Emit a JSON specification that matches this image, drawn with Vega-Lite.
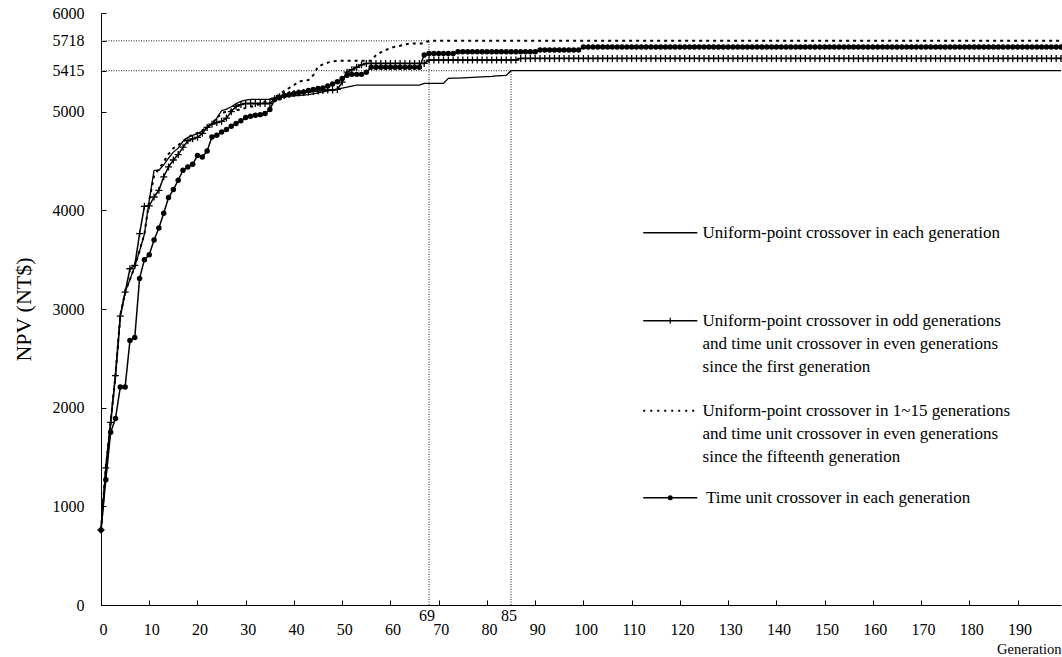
{
"$schema": "https://vega.github.io/schema/vega-lite/v6.json",
"width": 960, "height": 592,
"autosize": {"type": "none"},
"padding": {"left": 101, "top": 13, "right": 1, "bottom": 52},
"background": "white",
"config": {"view": {"stroke": null}, "font": "Liberation Serif",
 "axis": {"domainColor": "black", "tickColor": "black", "labelColor": "black", "titleColor": "black", "grid": false, "labelFont": "Liberation Serif", "titleFont": "Liberation Serif", "labelFontSize": 16, "titleFontWeight": "normal", "tickSize": -5, "domainWidth": 1, "tickWidth": 1, "format": "d"}},
"datasets": {
"series": [
{"g":0,"u":760,"p":760,"d":760,"t":760},
{"g":1,"u":1390,"p":1390,"d":1390,"t":1270},
{"g":2,"u":1851,"p":1851,"d":1851,"t":1750},
{"g":3,"u":2330,"p":2325,"d":2330,"t":1890},
{"g":4,"u":2930,"p":2927,"d":2930,"t":2210},
{"g":5,"u":3171,"p":3171,"d":3171,"t":2210},
{"g":6,"u":3300,"p":3408,"d":3300,"t":2680},
{"g":7,"u":3430,"p":3442,"d":3430,"t":2710},
{"g":8,"u":3590,"p":3763,"d":3590,"t":3310},
{"g":9,"u":3760,"p":4041,"d":3760,"t":3500},
{"g":10,"u":4100,"p":4045,"d":4100,"t":3550},
{"g":11,"u":4406,"p":4135,"d":4350,"t":3700},
{"g":12,"u":4406,"p":4203,"d":4420,"t":3820},
{"g":13,"u":4460,"p":4340,"d":4490,"t":3970},
{"g":14,"u":4530,"p":4440,"d":4570,"t":4130},
{"g":15,"u":4590,"p":4510,"d":4630,"t":4210},
{"g":16,"u":4630,"p":4565,"d":4660,"t":4305},
{"g":17,"u":4700,"p":4640,"d":4700,"t":4406},
{"g":18,"u":4740,"p":4705,"d":4740,"t":4440},
{"g":19,"u":4760,"p":4725,"d":4765,"t":4467},
{"g":20,"u":4778,"p":4740,"d":4785,"t":4555},
{"g":21,"u":4805,"p":4780,"d":4810,"t":4541},
{"g":22,"u":4840,"p":4840,"d":4845,"t":4602},
{"g":23,"u":4875,"p":4873,"d":4880,"t":4744},
{"g":24,"u":4935,"p":4890,"d":4935,"t":4761},
{"g":25,"u":5010,"p":4902,"d":4985,"t":4795},
{"g":26,"u":5025,"p":4935,"d":5000,"t":4819},
{"g":27,"u":5050,"p":5000,"d":5010,"t":4853},
{"g":28,"u":5080,"p":5055,"d":5015,"t":4880},
{"g":29,"u":5105,"p":5072,"d":5020,"t":4907},
{"g":30,"u":5117,"p":5083,"d":5040,"t":4941},
{"g":31,"u":5124,"p":5083,"d":5049,"t":4954},
{"g":32,"u":5124,"p":5083,"d":5060,"t":4964},
{"g":33,"u":5124,"p":5083,"d":5080,"t":4970},
{"g":34,"u":5124,"p":5083,"d":5100,"t":4981},
{"g":35,"u":5124,"p":5083,"d":5125,"t":5022},
{"g":36,"u":5135,"p":5130,"d":5145,"t":5124},
{"g":37,"u":5145,"p":5150,"d":5175,"t":5140},
{"g":38,"u":5150,"p":5165,"d":5210,"t":5165},
{"g":39,"u":5155,"p":5175,"d":5240,"t":5175},
{"g":40,"u":5160,"p":5185,"d":5270,"t":5185},
{"g":41,"u":5165,"p":5190,"d":5303,"t":5195},
{"g":42,"u":5168,"p":5195,"d":5315,"t":5200},
{"g":43,"u":5172,"p":5200,"d":5320,"t":5215},
{"g":44,"u":5180,"p":5205,"d":5370,"t":5225},
{"g":45,"u":5190,"p":5210,"d":5455,"t":5235},
{"g":46,"u":5200,"p":5215,"d":5480,"t":5240},
{"g":47,"u":5210,"p":5220,"d":5497,"t":5260},
{"g":48,"u":5218,"p":5220,"d":5510,"t":5280},
{"g":49,"u":5228,"p":5225,"d":5513,"t":5303},
{"g":50,"u":5238,"p":5300,"d":5516,"t":5337},
{"g":51,"u":5248,"p":5400,"d":5516,"t":5370},
{"g":52,"u":5258,"p":5425,"d":5516,"t":5378},
{"g":53,"u":5269,"p":5450,"d":5516,"t":5378},
{"g":54,"u":5269,"p":5475,"d":5516,"t":5378},
{"g":55,"u":5269,"p":5489,"d":5516,"t":5400},
{"g":56,"u":5269,"p":5489,"d":5516,"t":5450},
{"g":57,"u":5269,"p":5489,"d":5574,"t":5450},
{"g":58,"u":5269,"p":5489,"d":5600,"t":5450},
{"g":59,"u":5269,"p":5489,"d":5624,"t":5450},
{"g":60,"u":5269,"p":5489,"d":5645,"t":5450},
{"g":61,"u":5269,"p":5489,"d":5660,"t":5450},
{"g":62,"u":5269,"p":5489,"d":5668,"t":5450},
{"g":63,"u":5269,"p":5489,"d":5680,"t":5450},
{"g":64,"u":5269,"p":5489,"d":5692,"t":5450},
{"g":65,"u":5269,"p":5489,"d":5692,"t":5450},
{"g":66,"u":5269,"p":5489,"d":5692,"t":5450},
{"g":67,"u":5286,"p":5489,"d":5692,"t":5574},
{"g":68,"u":5286,"p":5523,"d":5718,"t":5590},
{"g":69,"u":5286,"p":5523,"d":5718,"t":5590},
{"g":70,"u":5286,"p":5523,"d":5718,"t":5590},
{"g":71,"u":5286,"p":5523,"d":5718,"t":5590},
{"g":72,"u":5337,"p":5523,"d":5718,"t":5590},
{"g":73,"u":5340,"p":5523,"d":5718,"t":5590},
{"g":74,"u":5340,"p":5523,"d":5718,"t":5607},
{"g":75,"u":5342,"p":5523,"d":5718,"t":5607},
{"g":76,"u":5345,"p":5523,"d":5718,"t":5607},
{"g":77,"u":5347,"p":5523,"d":5718,"t":5607},
{"g":78,"u":5350,"p":5523,"d":5718,"t":5607},
{"g":79,"u":5352,"p":5523,"d":5718,"t":5607},
{"g":80,"u":5355,"p":5523,"d":5718,"t":5607},
{"g":81,"u":5358,"p":5523,"d":5718,"t":5607},
{"g":82,"u":5363,"p":5523,"d":5718,"t":5607},
{"g":83,"u":5365,"p":5523,"d":5718,"t":5607},
{"g":84,"u":5367,"p":5523,"d":5718,"t":5607},
{"g":85,"u":5415,"p":5523,"d":5718,"t":5607},
{"g":86,"u":5415,"p":5523,"d":5718,"t":5607},
{"g":87,"u":5415,"p":5540,"d":5718,"t":5607},
{"g":88,"u":5415,"p":5540,"d":5718,"t":5607},
{"g":89,"u":5415,"p":5540,"d":5718,"t":5607},
{"g":90,"u":5415,"p":5540,"d":5718,"t":5607},
{"g":91,"u":5415,"p":5540,"d":5718,"t":5624},
{"g":92,"u":5415,"p":5540,"d":5718,"t":5624},
{"g":93,"u":5415,"p":5540,"d":5718,"t":5624},
{"g":94,"u":5415,"p":5540,"d":5718,"t":5624},
{"g":95,"u":5415,"p":5540,"d":5718,"t":5624},
{"g":96,"u":5415,"p":5540,"d":5718,"t":5624},
{"g":97,"u":5415,"p":5540,"d":5718,"t":5624},
{"g":98,"u":5415,"p":5540,"d":5718,"t":5624},
{"g":99,"u":5415,"p":5540,"d":5718,"t":5624},
{"g":100,"u":5415,"p":5540,"d":5718,"t":5655},
{"g":101,"u":5415,"p":5540,"d":5718,"t":5655},
{"g":102,"u":5415,"p":5540,"d":5718,"t":5655},
{"g":103,"u":5415,"p":5540,"d":5718,"t":5655},
{"g":104,"u":5415,"p":5540,"d":5718,"t":5655},
{"g":105,"u":5415,"p":5540,"d":5718,"t":5655},
{"g":106,"u":5415,"p":5540,"d":5718,"t":5655},
{"g":107,"u":5415,"p":5540,"d":5718,"t":5655},
{"g":108,"u":5415,"p":5540,"d":5718,"t":5655},
{"g":109,"u":5415,"p":5540,"d":5718,"t":5655},
{"g":110,"u":5415,"p":5540,"d":5718,"t":5655},
{"g":111,"u":5415,"p":5540,"d":5718,"t":5655},
{"g":112,"u":5415,"p":5540,"d":5718,"t":5655},
{"g":113,"u":5415,"p":5540,"d":5718,"t":5655},
{"g":114,"u":5415,"p":5540,"d":5718,"t":5655},
{"g":115,"u":5415,"p":5540,"d":5718,"t":5655},
{"g":116,"u":5415,"p":5540,"d":5718,"t":5655},
{"g":117,"u":5415,"p":5540,"d":5718,"t":5655},
{"g":118,"u":5415,"p":5540,"d":5718,"t":5655},
{"g":119,"u":5415,"p":5540,"d":5718,"t":5655},
{"g":120,"u":5415,"p":5540,"d":5718,"t":5655},
{"g":121,"u":5415,"p":5540,"d":5718,"t":5655},
{"g":122,"u":5415,"p":5540,"d":5718,"t":5655},
{"g":123,"u":5415,"p":5540,"d":5718,"t":5655},
{"g":124,"u":5415,"p":5540,"d":5718,"t":5655},
{"g":125,"u":5415,"p":5540,"d":5718,"t":5655},
{"g":126,"u":5415,"p":5540,"d":5718,"t":5655},
{"g":127,"u":5415,"p":5540,"d":5718,"t":5655},
{"g":128,"u":5415,"p":5540,"d":5718,"t":5655},
{"g":129,"u":5415,"p":5540,"d":5718,"t":5655},
{"g":130,"u":5415,"p":5540,"d":5718,"t":5655},
{"g":131,"u":5415,"p":5540,"d":5718,"t":5655},
{"g":132,"u":5415,"p":5540,"d":5718,"t":5655},
{"g":133,"u":5415,"p":5540,"d":5718,"t":5655},
{"g":134,"u":5415,"p":5540,"d":5718,"t":5655},
{"g":135,"u":5415,"p":5540,"d":5718,"t":5655},
{"g":136,"u":5415,"p":5540,"d":5718,"t":5655},
{"g":137,"u":5415,"p":5540,"d":5718,"t":5655},
{"g":138,"u":5415,"p":5540,"d":5718,"t":5655},
{"g":139,"u":5415,"p":5540,"d":5718,"t":5655},
{"g":140,"u":5415,"p":5540,"d":5718,"t":5655},
{"g":141,"u":5415,"p":5540,"d":5718,"t":5655},
{"g":142,"u":5415,"p":5540,"d":5718,"t":5655},
{"g":143,"u":5415,"p":5540,"d":5718,"t":5655},
{"g":144,"u":5415,"p":5540,"d":5718,"t":5655},
{"g":145,"u":5415,"p":5540,"d":5718,"t":5655},
{"g":146,"u":5415,"p":5540,"d":5718,"t":5655},
{"g":147,"u":5415,"p":5540,"d":5718,"t":5655},
{"g":148,"u":5415,"p":5540,"d":5718,"t":5655},
{"g":149,"u":5415,"p":5540,"d":5718,"t":5655},
{"g":150,"u":5415,"p":5540,"d":5718,"t":5655},
{"g":151,"u":5415,"p":5540,"d":5718,"t":5655},
{"g":152,"u":5415,"p":5540,"d":5718,"t":5655},
{"g":153,"u":5415,"p":5540,"d":5718,"t":5655},
{"g":154,"u":5415,"p":5540,"d":5718,"t":5655},
{"g":155,"u":5415,"p":5540,"d":5718,"t":5655},
{"g":156,"u":5415,"p":5540,"d":5718,"t":5655},
{"g":157,"u":5415,"p":5540,"d":5718,"t":5655},
{"g":158,"u":5415,"p":5540,"d":5718,"t":5655},
{"g":159,"u":5415,"p":5540,"d":5718,"t":5655},
{"g":160,"u":5415,"p":5540,"d":5718,"t":5655},
{"g":161,"u":5415,"p":5540,"d":5718,"t":5655},
{"g":162,"u":5415,"p":5540,"d":5718,"t":5655},
{"g":163,"u":5415,"p":5540,"d":5718,"t":5655},
{"g":164,"u":5415,"p":5540,"d":5718,"t":5655},
{"g":165,"u":5415,"p":5540,"d":5718,"t":5655},
{"g":166,"u":5415,"p":5540,"d":5718,"t":5655},
{"g":167,"u":5415,"p":5540,"d":5718,"t":5655},
{"g":168,"u":5415,"p":5540,"d":5718,"t":5655},
{"g":169,"u":5415,"p":5540,"d":5718,"t":5655},
{"g":170,"u":5415,"p":5540,"d":5718,"t":5655},
{"g":171,"u":5415,"p":5540,"d":5718,"t":5655},
{"g":172,"u":5415,"p":5540,"d":5718,"t":5655},
{"g":173,"u":5415,"p":5540,"d":5718,"t":5655},
{"g":174,"u":5415,"p":5540,"d":5718,"t":5655},
{"g":175,"u":5415,"p":5540,"d":5718,"t":5655},
{"g":176,"u":5415,"p":5540,"d":5718,"t":5655},
{"g":177,"u":5415,"p":5540,"d":5718,"t":5655},
{"g":178,"u":5415,"p":5540,"d":5718,"t":5655},
{"g":179,"u":5415,"p":5540,"d":5718,"t":5655},
{"g":180,"u":5415,"p":5540,"d":5718,"t":5655},
{"g":181,"u":5415,"p":5540,"d":5718,"t":5655},
{"g":182,"u":5415,"p":5540,"d":5718,"t":5655},
{"g":183,"u":5415,"p":5540,"d":5718,"t":5655},
{"g":184,"u":5415,"p":5540,"d":5718,"t":5655},
{"g":185,"u":5415,"p":5540,"d":5718,"t":5655},
{"g":186,"u":5415,"p":5540,"d":5718,"t":5655},
{"g":187,"u":5415,"p":5540,"d":5718,"t":5655},
{"g":188,"u":5415,"p":5540,"d":5718,"t":5655},
{"g":189,"u":5415,"p":5540,"d":5718,"t":5655},
{"g":190,"u":5415,"p":5540,"d":5718,"t":5655},
{"g":191,"u":5415,"p":5540,"d":5718,"t":5655},
{"g":192,"u":5415,"p":5540,"d":5718,"t":5655},
{"g":193,"u":5415,"p":5540,"d":5718,"t":5655},
{"g":194,"u":5415,"p":5540,"d":5718,"t":5655},
{"g":195,"u":5415,"p":5540,"d":5718,"t":5655},
{"g":196,"u":5415,"p":5540,"d":5718,"t":5655},
{"g":197,"u":5415,"p":5540,"d":5718,"t":5655},
{"g":198,"u":5415,"p":5540,"d":5718,"t":5655},
{"g":199,"u":5415,"p":5540,"d":5718,"t":5655}
],
"refs": [
{"g":0,"g2":68,"v":5718,"v2":5718},
{"g":0,"g2":85,"v":5415,"v2":5415},
{"g":68,"g2":68,"v":0,"v2":5718},
{"g":85,"g2":85,"v":0,"v2":5415}
],
"refLabels": [{"g":68,"lab":"69"},{"g":85,"lab":"85"}],
"legendLines": [
{"k":"u","g":112.4,"g2":123.6,"v":3773},
{"k":"p","g":112.4,"g2":123.6,"v":2881},
{"k":"d","g":112.4,"g2":123.6,"v":1969},
{"k":"t","g":112.4,"g2":123.6,"v":1087}
],
"legendMarks": [
{"k":"p","g":118,"v":2881},
{"k":"t","g":118,"v":1087}
],
"legendText": [
{"g":124.7,"v":3773,"txt":"Uniform-point crossover in each generation"},
{"g":124.7,"v":2881,"txt":"Uniform-point crossover in odd generations"},
{"g":124.7,"v":2648,"txt":"and time unit  crossover in even generations"},
{"g":124.7,"v":2412,"txt":"since the first generation"},
{"g":124.7,"v":1969,"txt":"Uniform-point crossover in 1~15 generations"},
{"g":124.7,"v":1736,"txt":"and time unit  crossover in even generations"},
{"g":124.7,"v":1500,"txt":"since the fifteenth generation"},
{"g":125.4,"v":1087,"txt":"Time unit crossover in each generation"}
]
},
"layer": [
{"data": {"name": "series"},
 "mark": {"type": "line", "color": "black", "strokeWidth": 1.3},
 "encoding": {
  "x": {"field": "g", "type": "quantitative", "scale": {"domain": [0, 199], "nice": false, "zero": false},
   "axis": {"title": "Generation", "values": [0,10,20,30,40,50,60,70,80,90,100,110,120,130,140,150,160,170,180,190], "labelPadding": 21, "labelOffset": 2, "labelFlush": false, "titleAnchor": "end", "titleFontSize": 14.5, "titlePadding": 5}},
  "y": {"field": "u", "type": "quantitative", "scale": {"domain": [0, 6000], "nice": false},
   "axis": {"title": "NPV (NT$)", "values": [0,1000,2000,3000,4000,5000,5415,5718,6000], "labelPadding": 22, "titleFontSize": 22, "titlePadding": 17}}
 }},
{"data": {"name": "refs"},
 "mark": {"type": "rule", "color": "#222", "strokeWidth": 1, "strokeDash": [1, 1.5]},
 "encoding": {"x": {"field": "g", "type": "quantitative"}, "x2": {"field": "g2"}, "y": {"field": "v", "type": "quantitative"}, "y2": {"field": "v2"}}},
{"data": {"name": "series"},
 "mark": {"type": "line", "color": "black", "strokeWidth": 1.5},
 "encoding": {"x": {"field": "g", "type": "quantitative"}, "y": {"field": "p", "type": "quantitative"}}},
{"data": {"name": "series"},
 "mark": {"type": "point", "shape": "M-1,0H1M0,-1V1", "filled": false, "stroke": "black", "strokeWidth": 1.3, "size": 49, "opacity": 1},
 "encoding": {"x": {"field": "g", "type": "quantitative"}, "y": {"field": "p", "type": "quantitative"}}},
{"data": {"name": "series"},
 "mark": {"type": "line", "color": "black", "strokeWidth": 2, "strokeDash": [3, 4]},
 "encoding": {"x": {"field": "g", "type": "quantitative"}, "y": {"field": "d", "type": "quantitative"}}},
{"data": {"name": "series"},
 "mark": {"type": "line", "color": "black", "strokeWidth": 1.5},
 "encoding": {"x": {"field": "g", "type": "quantitative"}, "y": {"field": "t", "type": "quantitative"}}},
{"data": {"name": "series"},
 "mark": {"type": "point", "shape": "circle", "filled": true, "color": "black", "size": 30, "opacity": 1},
 "encoding": {"x": {"field": "g", "type": "quantitative"}, "y": {"field": "t", "type": "quantitative"}}},
{"data": {"name": "refLabels"},
 "mark": {"type": "text", "fontSize": 16, "dy": 11, "dx": -2, "baseline": "middle", "color": "black"},
 "encoding": {"x": {"field": "g", "type": "quantitative"}, "y": {"datum": 0}, "text": {"field": "lab"}}},
{"data": {"name": "legendLines"},
 "transform": [{"filter": "datum.k != 'd'"}],
 "mark": {"type": "rule", "color": "black", "strokeWidth": 1.5},
 "encoding": {"x": {"field": "g", "type": "quantitative"}, "x2": {"field": "g2"}, "y": {"field": "v", "type": "quantitative"}}},
{"data": {"name": "legendLines"},
 "transform": [{"filter": "datum.k == 'd'"}],
 "mark": {"type": "rule", "color": "black", "strokeWidth": 2, "strokeDash": [2, 5]},
 "encoding": {"x": {"field": "g", "type": "quantitative"}, "x2": {"field": "g2"}, "y": {"field": "v", "type": "quantitative"}}},
{"data": {"name": "legendMarks"},
 "transform": [{"filter": "datum.k == 'p'"}],
 "mark": {"type": "point", "shape": "M0,-1V1", "filled": false, "stroke": "black", "strokeWidth": 1.2, "size": 36, "opacity": 1},
 "encoding": {"x": {"field": "g", "type": "quantitative"}, "y": {"field": "v", "type": "quantitative"}}},
{"data": {"name": "legendMarks"},
 "transform": [{"filter": "datum.k == 't'"}],
 "mark": {"type": "point", "shape": "circle", "filled": true, "color": "black", "size": 25, "opacity": 1},
 "encoding": {"x": {"field": "g", "type": "quantitative"}, "y": {"field": "v", "type": "quantitative"}}},
{"data": {"name": "legendText"},
 "mark": {"type": "text", "align": "left", "baseline": "middle", "fontSize": 17, "color": "black"},
 "encoding": {"x": {"field": "g", "type": "quantitative"}, "y": {"field": "v", "type": "quantitative"}, "text": {"field": "txt"}}}
]
}
